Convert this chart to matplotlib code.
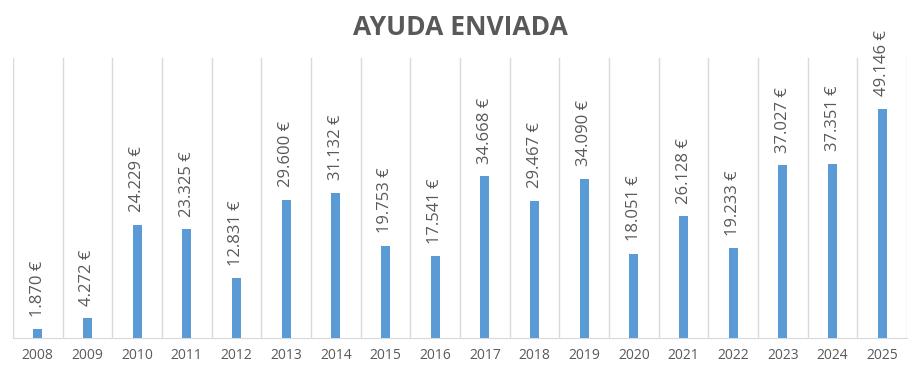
import matplotlib.pyplot as plt
import numpy as np

years = ['2008', '2009', '2010', '2011', '2012', '2013', '2014', '2015', '2016',
         '2017', '2018', '2019', '2020', '2021', '2022', '2023', '2024', '2025']
ayuda = [1870, 4272, 24229, 23325, 12831, 29600, 31132, 19753, 17541,
         34668, 29467, 34090, 18051, 26128, 19233, 37027, 37351, 49146]

plt.rcParams['font.family'] = ['Open Sans', 'DejaVu Sans']

fig = plt.figure(figsize=(9.2, 3.72), dpi=100)
ax = fig.add_axes([0.014, 0.091, 0.972, 0.753])

x = np.arange(len(years))
ax.bar(x, ayuda, width=0.18, color='#5B9BD5', zorder=3)

for xi, v in zip(x, ayuda):
    s = '{:,}'.format(v).replace(',', '.') + ' €'
    ax.text(xi, v + 2700, s, rotation=90, ha='center', va='bottom',
            fontsize=12, color='#595959', zorder=4, clip_on=False)

# lineas verticales entre categorias
for b in np.arange(-0.5, len(years), 1.0):
    ax.axvline(b, color='#D9D9D9', lw=1, zorder=1)

ax.set_xlim(-0.5, len(years) - 0.5)
ax.set_ylim(0, 60000)
ax.set_xticks(x)
ax.set_xticklabels(years, fontsize=10, color='#595959')
ax.tick_params(axis='x', length=0, pad=7)
ax.set_yticks([])
for side in ['top', 'left', 'right']:
    ax.spines[side].set_visible(False)
ax.spines['bottom'].set_color('#D9D9D9')
ax.spines['bottom'].set_zorder(2)

fig.text(0.5, 0.925, 'AYUDA ENVIADA', ha='center', va='center',
         fontsize=19, fontweight='bold', color='#595959')

fig.savefig('out.png', dpi=100)
